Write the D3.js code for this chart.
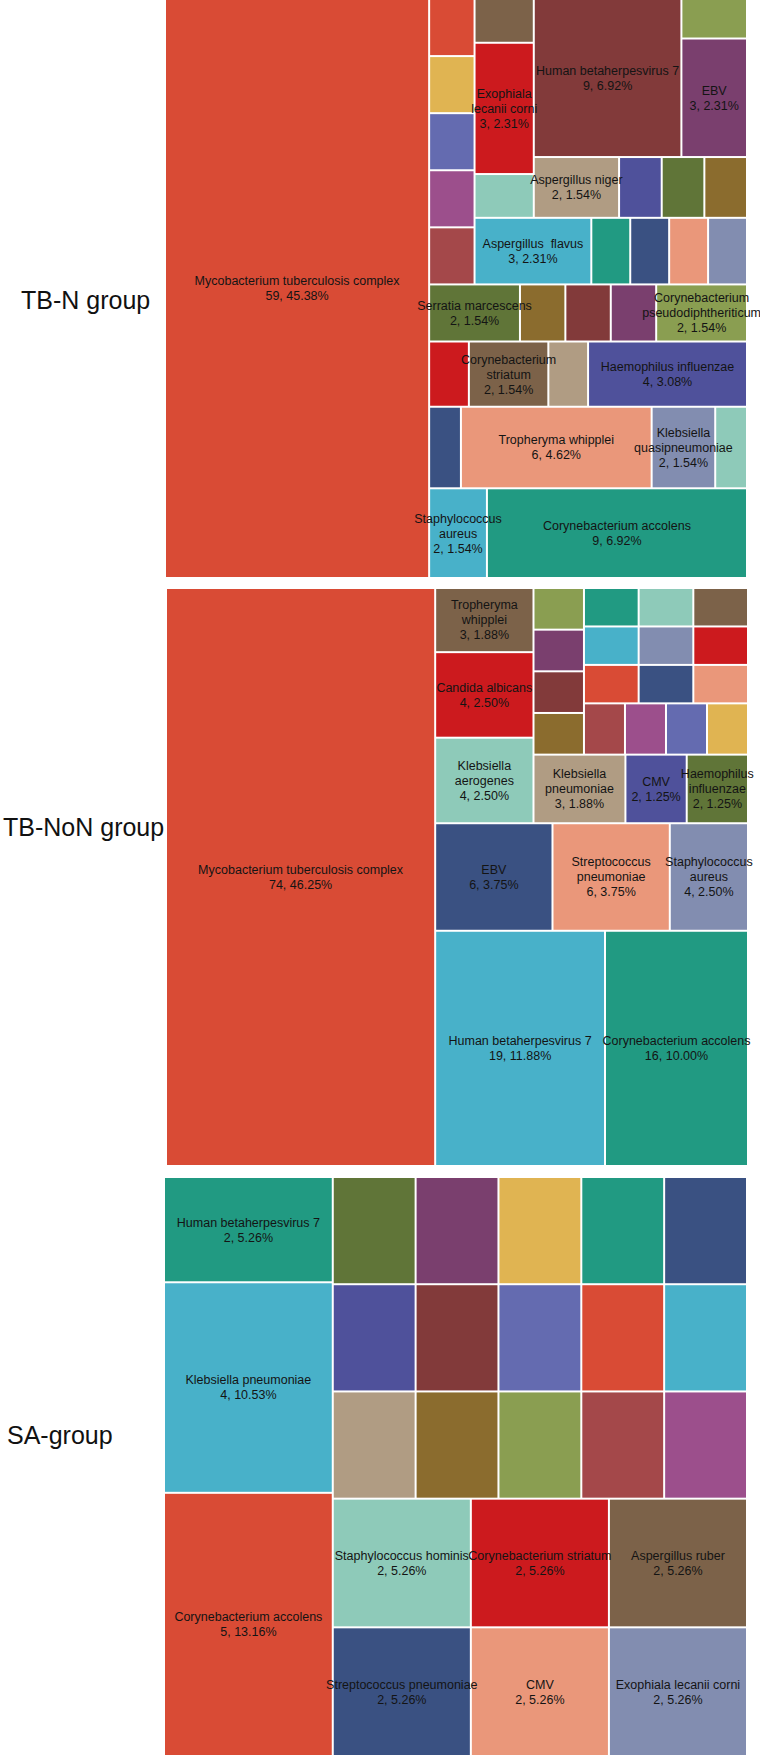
<!DOCTYPE html>
<html>
<head>
<meta charset="utf-8">
<script src="https://cdn.jsdelivr.net/npm/d3@7"></script>
<style>
  body { margin: 0; background: #fff; }
  text { font-family: "Liberation Sans", Arial, sans-serif; white-space: pre; }
</style>
</head>
<body>
<div id="chart"></div>
<script>
// Palette (colours reused across the three maps)
const C = {
  orange: "#d94b35", yellow: "#e0b452", slate: "#646bb0", magenta: "#9c4f8c",
  brick: "#a4484a", brown: "#7c6249", red: "#cc1a1e", mint: "#8ecab9",
  maroon: "#823a3a", olive: "#8a9e51", plum: "#7a3f6e", tan: "#b09c83",
  indigo: "#4f519b", green: "#607538", ochre: "#8b6c2e", cyan: "#48b1c9",
  teal: "#219a82", navy: "#3a5182", salmon: "#ea977a", steel: "#828db0"
}

// TB-N group (n = 130); unlabelled cells are single detections
const tbnNames = [
  "Mycobacterium tuberculosis complex",
  "", "", "", "", "",
  "", "Exophiala\nlecanii corni", "",
  "Human betaherpesvirus 7", "", "EBV",
  "Aspergillus niger", "", "", "",
  "Aspergillus  flavus", "", "", "", "",
  "Serratia marcescens", "", "", "", "Corynebacterium\npseudodiphtheriticum",
  "", "Corynebacterium\nstriatum", "", "Haemophilus influenzae",
  "", "Tropheryma whipplei", "Klebsiella\nquasipneumoniae", "",
  "Staphylococcus\naureus", "Corynebacterium accolens"
]
const tbnCounts = [
  59,
  1, 1, 1, 1, 1,
  1, 3, 1,
  9, 1, 3,
  2, 1, 1, 1,
  3, 1, 1, 1, 1,
  2, 1, 1, 1, 2,
  1, 2, 1, 4,
  1, 6, 2, 1,
  2, 9
]
const tbnColors = [
  C.orange,
  C.orange, C.yellow, C.slate, C.magenta, C.brick,
  C.brown, C.red, C.mint,
  C.maroon, C.olive, C.plum,
  C.tan, C.indigo, C.green, C.ochre,
  C.cyan, C.teal, C.navy, C.salmon, C.steel,
  C.green, C.ochre, C.maroon, C.plum, C.olive,
  C.red, C.brown, C.tan, C.indigo,
  C.navy, C.salmon, C.steel, C.mint,
  C.cyan, C.teal
]
// nesting of cells: "h" = side by side, "v" = stacked
const tbnNest = ["h", 0, ["v",
  ["h", ["v", 1, 2, 3, 4, 5],
        ["v", ["h", ["v", 6, 7, 8],
                    ["v", ["h", 9, ["v", 10, 11]], ["h", 12, 13, 14, 15]]],
              ["h", 16, 17, 18, 19, 20]]],
  ["h", 21, 22, 23, 24, 25],
  ["h", 26, 27, 28, 29],
  ["h", 30, 31, 32, 33],
  ["h", 34, 35]
]]

// TB-NoN group (n = 160)
const tbnonNames = [
  "Mycobacterium tuberculosis complex",
  "Tropheryma\nwhipplei", "Candida albicans", "Klebsiella\naerogenes",
  "", "", "", "",
  "", "", "",
  "", "", "",
  "", "", "",
  "", "", "", "",
  "Klebsiella\npneumoniae", "CMV", "Haemophilus\ninfluenzae",
  "EBV", "Streptococcus\npneumoniae", "Staphylococcus\naureus",
  "Human betaherpesvirus 7", "Corynebacterium accolens"
]
const tbnonCounts = [
  74,
  3, 4, 4,
  1, 1, 1, 1,
  1, 1, 1,
  1, 1, 1,
  1, 1, 1,
  1, 1, 1, 1,
  3, 2, 2,
  6, 6, 4,
  19, 16
]
const tbnonColors = [
  C.orange,
  C.brown, C.red, C.mint,
  C.olive, C.plum, C.maroon, C.ochre,
  C.teal, C.mint, C.brown,
  C.cyan, C.steel, C.red,
  C.orange, C.navy, C.salmon,
  C.brick, C.magenta, C.slate, C.yellow,
  C.tan, C.indigo, C.green,
  C.navy, C.salmon, C.steel,
  C.cyan, C.teal
]
const tbnonNest = ["h", 0, ["v",
  ["h", ["v", 1, 2, 3],
        ["v", ["h", ["v", 4, 5, 6, 7],
                    ["v", ["h", 8, 9, 10], ["h", 11, 12, 13], ["h", 14, 15, 16], ["h", 17, 18, 19, 20]]],
              ["h", 21, 22, 23]]],
  ["h", 24, 25, 26],
  ["h", 27, 28]
]]

// SA-group (n = 38)
const saNames = [
  "Human betaherpesvirus 7", "Klebsiella pneumoniae", "Corynebacterium accolens",
  "", "", "", "", "",
  "", "", "", "", "",
  "", "", "", "", "",
  "Staphylococcus hominis", "Corynebacterium striatum", "Aspergillus ruber",
  "Streptococcus pneumoniae", "CMV", "Exophiala lecanii corni"
]
const saCounts = [
  2, 4, 5,
  1, 1, 1, 1, 1,
  1, 1, 1, 1, 1,
  1, 1, 1, 1, 1,
  2, 2, 2,
  2, 2, 2
]
const saColors = [
  C.teal, C.cyan, C.orange,
  C.green, C.plum, C.yellow, C.teal, C.navy,
  C.indigo, C.maroon, C.slate, C.orange, C.cyan,
  C.tan, C.ochre, C.olive, C.brick, C.magenta,
  C.mint, C.red, C.brown,
  C.navy, C.salmon, C.steel
]
const saNest = ["h", ["v", ["v", 0, 1], 2], ["v",
  ["h", 3, 4, 5, 6, 7],
  ["h", 8, 9, 10, 11, 12],
  ["h", 13, 14, 15, 16, 17],
  ["h", 18, 19, 20],
  ["h", 21, 22, 23]
]]

const groupLabels = ["TB-N group", "TB-NoN group", "SA-group"]

// Dimensions
const width = 760
const height = 1756
const labelSize = 12.5
const lineGap = 15

const svg = d3.select("#chart")
  .append("svg")
    .attr("width", width)
    .attr("height", height)

function buildNode(spec) {
  if (typeof spec === "number") return {i: spec}
  return {dir: spec[0], children: spec.slice(1).map(buildNode)}
}

function tile(node, x0, y0, x1, y1) {
  if (node.data.dir === "h") d3.treemapDice(node, x0, y0, x1, y1)
  else d3.treemapSlice(node, x0, y0, x1, y1)
}

function drawMap(names, counts, colors, nest, box) {
  let total = d3.sum(counts)
  let root = d3.hierarchy(buildNode(nest))
    .sum(function(d) { return d.i === undefined ? 0 : counts[d.i] })

  d3.treemap()
    .tile(tile)
    .size([box.x1 - box.x0, box.y1 - box.y0])
    .paddingInner(2)
    .round(false)(root)

  let g = svg.append("g")
    .attr("transform", "translate(" + box.x0 + "," + box.y0 + ")")

  g.selectAll(".cell")
    .data(root.leaves())
    .enter().append("rect")
    .attr("class", "cell")
    .attr("x", function(d) { return d.x0 })
    .attr("y", function(d) { return d.y0 })
    .attr("width", function(d) { return d.x1 - d.x0 })
    .attr("height", function(d) { return d.y1 - d.y0 })
    .attr("fill", function(d) { return colors[d.data.i] })

  // labels go on top of every cell so that long names can spill over
  g.selectAll(".cell-label")
    .data(root.leaves().filter(function(d) { return names[d.data.i] !== "" }))
    .enter().append("text")
    .attr("class", "cell-label")
    .attr("text-anchor", "middle")
    .attr("fill", "#141414")
    .style("font-size", labelSize + "px")
    .attr("transform", function(d) {
      return "translate(" + (d.x0 + d.x1) / 2 + "," + (d.y0 + d.y1) / 2 + ")"
    })
    .each(function(d) {
      let c = counts[d.data.i]
      let pct = (Math.round(c * 10000 / total) / 100).toFixed(2)
      let lines = names[d.data.i].split("\n").concat([c + ", " + pct + "%"])
      let top = -(lines.length - 1) * lineGap / 2
      d3.select(this).selectAll("tspan")
        .data(lines)
        .enter().append("tspan")
        .attr("x", 0)
        .attr("y", function(l, k) { return top + k * lineGap })
        .attr("dy", "0.35em")
        .text(function(l) { return l })
    })
}

drawMap(tbnNames, tbnCounts, tbnColors, tbnNest, {x0: 166, y0: 0, x1: 746, y1: 577})
drawMap(tbnonNames, tbnonCounts, tbnonColors, tbnonNest, {x0: 167, y0: 589, x1: 747, y1: 1165})
drawMap(saNames, saCounts, saColors, saNest, {x0: 165, y0: 1178, x1: 746, y1: 1755})

svg.selectAll(".group-label")
  .data(groupLabels)
  .enter().append("text")
  .attr("class", "group-label")
  .attr("x", function(d, i) { return [21, 3, 7][i] })
  .attr("y", function(d, i) { return [309, 836, 1444][i] })
  .attr("fill", "#111")
  .style("font-size", "25px")
  .text(function(d) { return d })
</script>
</body>
</html>
